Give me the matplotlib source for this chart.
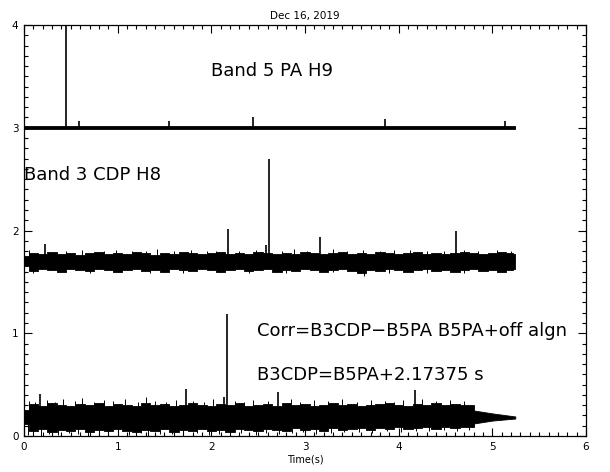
import matplotlib
matplotlib.use("Agg")
import matplotlib.pyplot as plt
from matplotlib.ticker import MultipleLocator

plt.rcParams['font.family'] = ['DejaVu Sans']

# sample times for the noise envelopes (s)
t_grid = [0.0, 0.1, 0.2, 0.3, 0.4, 0.5, 0.6, 0.7, 0.8, 0.9,
          1.0, 1.1, 1.2, 1.3, 1.4, 1.5, 1.6, 1.7, 1.8, 1.9,
          2.0, 2.1, 2.2, 2.3, 2.4, 2.5, 2.6, 2.7, 2.8, 2.9,
          3.0, 3.1, 3.2, 3.3, 3.4, 3.5, 3.6, 3.7, 3.8, 3.9,
          4.0, 4.1, 4.2, 4.3, 4.4, 4.5, 4.6, 4.7, 4.8, 4.9,
          5.0, 5.1, 5.2, 5.245]

# --- Band 5 PA H9 (offset +3) ---
b5_t = [0.0, 5.245]
b5_lo = [2.985, 2.985]
b5_hi = [3.015, 3.015]
b5_base = 3.0
b5_spike_t = [0.45, 0.585, 1.55, 2.44, 3.855, 5.14]
b5_spike_v = [4.2, 3.07, 3.07, 3.105, 3.09, 3.07]

# --- Band 3 CDP H8 ---
b3_hi = [1.75, 1.78, 1.77, 1.79, 1.77, 1.78, 1.76, 1.78, 1.79, 1.77,
         1.78, 1.77, 1.79, 1.78, 1.76, 1.78, 1.77, 1.79, 1.78, 1.77,
         1.78, 1.79, 1.77, 1.78, 1.77, 1.79, 1.78, 1.77, 1.78, 1.77,
         1.79, 1.78, 1.77, 1.78, 1.79, 1.77, 1.78, 1.77, 1.79, 1.78,
         1.77, 1.78, 1.79, 1.77, 1.78, 1.77, 1.78, 1.79, 1.78, 1.77,
         1.78, 1.79, 1.78, 1.77]
b3_lo = [1.65, 1.61, 1.63, 1.62, 1.60, 1.63, 1.62, 1.61, 1.63, 1.62,
         1.60, 1.62, 1.63, 1.61, 1.62, 1.60, 1.63, 1.62, 1.61, 1.63,
         1.62, 1.60, 1.62, 1.63, 1.61, 1.62, 1.63, 1.60, 1.62, 1.61,
         1.63, 1.62, 1.60, 1.62, 1.63, 1.61, 1.59, 1.62, 1.61, 1.63,
         1.62, 1.60, 1.62, 1.63, 1.61, 1.62, 1.60, 1.62, 1.63, 1.61,
         1.62, 1.60, 1.62, 1.63]
b3_base = 1.70
b3_spike_t = [0.226, 2.18, 2.585, 2.62, 3.16, 4.615]
b3_spike_v = [1.87, 2.01, 1.86, 2.70, 1.94, 2.00]
b3_up_t = [0.05, 0.45, 0.62, 0.85, 0.98, 1.15, 1.30, 1.42, 1.60, 1.78, 1.95, 2.05,
           2.30, 2.48, 2.75, 2.88, 3.02, 3.30, 3.45, 3.62, 3.80, 3.95, 4.12, 4.30,
           4.48, 4.70, 4.85, 5.05, 5.20]
b3_up_v = [1.81, 1.80, 1.81, 1.80, 1.81, 1.80, 1.80, 1.82, 1.80, 1.81, 1.80, 1.80,
           1.80, 1.81, 1.80, 1.82, 1.80, 1.82, 1.80, 1.81, 1.80, 1.81, 1.81, 1.80,
           1.80, 1.81, 1.80, 1.81, 1.80]
b3_dn_t = [0.10, 0.40, 0.70, 1.00, 1.35, 1.70, 2.10, 2.40, 2.80, 3.30, 3.63, 3.90,
           4.30, 4.70, 5.10]
b3_dn_v = [1.59, 1.60, 1.59, 1.60, 1.59, 1.59, 1.60, 1.59, 1.59, 1.60, 1.56, 1.59,
           1.59, 1.59, 1.60]

# --- Corr = B3CDP - B5PA (noisy part up to 4.8 s, then a quiet tail) ---
cr_hi = [0.25, 0.31, 0.29, 0.32, 0.30, 0.29, 0.31, 0.30, 0.32, 0.29,
         0.31, 0.30, 0.29, 0.32, 0.30, 0.31, 0.29, 0.30, 0.32, 0.30,
         0.29, 0.31, 0.30, 0.32, 0.29, 0.30, 0.31, 0.29, 0.32, 0.30,
         0.31, 0.29, 0.30, 0.32, 0.30, 0.31, 0.29, 0.30, 0.31, 0.32,
         0.30, 0.29, 0.31, 0.30, 0.32, 0.30, 0.31, 0.30, 0.30]
cr_lo = [0.12, 0.05, 0.07, 0.04, 0.06, 0.05, 0.07, 0.04, 0.06, 0.05,
         0.07, 0.05, 0.04, 0.06, 0.05, 0.07, 0.04, 0.06, 0.05, 0.07,
         0.05, 0.06, 0.04, 0.07, 0.06, 0.05, 0.07, 0.06, 0.05, 0.08,
         0.06, 0.07, 0.05, 0.08, 0.06, 0.07, 0.08, 0.06, 0.08, 0.07,
         0.09, 0.07, 0.08, 0.09, 0.07, 0.09, 0.08, 0.09, 0.09]
cr_tail_t = [4.79, 5.0, 5.245]
cr_tail_hi = [0.25, 0.22, 0.19]
cr_tail_lo = [0.12, 0.15, 0.17]
cr_base = 0.18
cr_spike_t = [0.176, 1.73, 2.14, 2.17, 2.71, 4.17]
cr_spike_v = [0.41, 0.46, 0.38, 1.19, 0.43, 0.45]
cr_up_t = [0.05, 0.12, 0.25, 0.33, 0.42, 0.55, 0.62, 0.75, 0.85, 0.95, 1.08, 1.22,
           1.30, 1.40, 1.52, 1.62, 1.80, 1.92, 2.02, 2.25, 2.35, 2.45, 2.60, 2.85,
           2.95, 3.10, 3.25, 3.40, 3.55, 3.70, 3.85, 3.95, 4.05, 4.25, 4.40, 4.55, 4.70]
cr_up_v = [0.34, 0.33, 0.35, 0.33, 0.36, 0.34, 0.37, 0.33, 0.35, 0.34, 0.36, 0.33,
           0.38, 0.34, 0.33, 0.35, 0.34, 0.33, 0.36, 0.34, 0.33, 0.35, 0.34, 0.36,
           0.33, 0.35, 0.34, 0.36, 0.33, 0.35, 0.34, 0.33, 0.35, 0.36, 0.34, 0.35, 0.34]
cr_dn_t = [0.04, 0.10, 0.18, 0.27, 0.36, 0.48, 0.58, 0.68, 0.80, 0.90, 1.00, 1.12,
           1.25, 1.32, 1.45, 1.58, 1.70, 1.85, 1.98, 2.08, 2.20, 2.32, 2.48, 2.58,
           2.72, 2.86, 2.98, 3.12, 3.28, 3.42, 3.58, 3.72, 3.88, 4.02, 4.18, 4.32,
           4.48, 4.62, 4.75]
cr_dn_v = [0.01, 0.02, 0.00, 0.02, 0.01, 0.03, 0.02, 0.00, 0.02, 0.01, 0.02, 0.01,
           0.03, 0.00, 0.02, 0.02, 0.01, 0.03, 0.01, 0.02, 0.02, 0.03, 0.01, 0.03,
           0.02, 0.03, 0.04, 0.02, 0.03, 0.04, 0.04, 0.03, 0.05, 0.04, 0.05, 0.05,
           0.06, 0.05, 0.06]

fig = plt.figure(figsize=(6.10, 4.72), dpi=100)
ax = fig.add_axes([0.0393, 0.0763, 0.9214, 0.8707])


def trace(t, lo, hi, base, sp_t, sp_v, up_t=(), up_v=(), dn_t=(), dn_v=()):
    ax.fill_between(t, lo, hi, step='mid', color='black', lw=0.6,
                    edgecolor='black')
    ax.vlines(up_t, base, up_v, color='black', lw=0.7)
    ax.vlines(dn_t, dn_v, base, color='black', lw=0.7)
    ax.vlines(sp_t, base, sp_v, color='black', lw=1.2)


trace(b5_t, b5_lo, b5_hi, b5_base, b5_spike_t, b5_spike_v)
trace(t_grid, b3_lo, b3_hi, b3_base, b3_spike_t, b3_spike_v,
      b3_up_t, b3_up_v, b3_dn_t, b3_dn_v)
trace(t_grid[:len(cr_hi)], cr_lo, cr_hi, cr_base, cr_spike_t, cr_spike_v,
      cr_up_t, cr_up_v, cr_dn_t, cr_dn_v)
ax.fill_between(cr_tail_t, cr_tail_lo, cr_tail_hi, color='black', lw=0.6,
                edgecolor='black')

ax.set_xlim(0, 6)
ax.set_ylim(0, 4)
ax.xaxis.set_major_locator(MultipleLocator(1))
ax.xaxis.set_minor_locator(MultipleLocator(0.1))
ax.yaxis.set_major_locator(MultipleLocator(1))
ax.yaxis.set_minor_locator(MultipleLocator(0.1))
ax.tick_params(which='both', direction='in', top=True, right=True,
               labelsize=7.5, width=0.8, pad=4)
ax.tick_params(which='major', length=6)
ax.tick_params(which='minor', length=3)
for s in ax.spines.values():
    s.set_linewidth(0.9)

ax.set_xlabel('Time(s)', fontsize=7, labelpad=2)
ax.set_title('Dec 16, 2019', fontsize=7.5, pad=4)

txt = dict(fontsize=13, color='black', va='baseline')
ax.text(2.0, 3.50, 'Band 5 PA H9', **txt)
ax.text(0.0, 2.49, 'Band 3 CDP H8', **txt)
ax.text(2.49, 0.973, 'Corr=B3CDP\u2212B5PA B5PA+off algn', **txt)
ax.text(2.49, 0.545, 'B3CDP=B5PA+2.17375 s', **txt)

fig.savefig('out.png', dpi=100)
